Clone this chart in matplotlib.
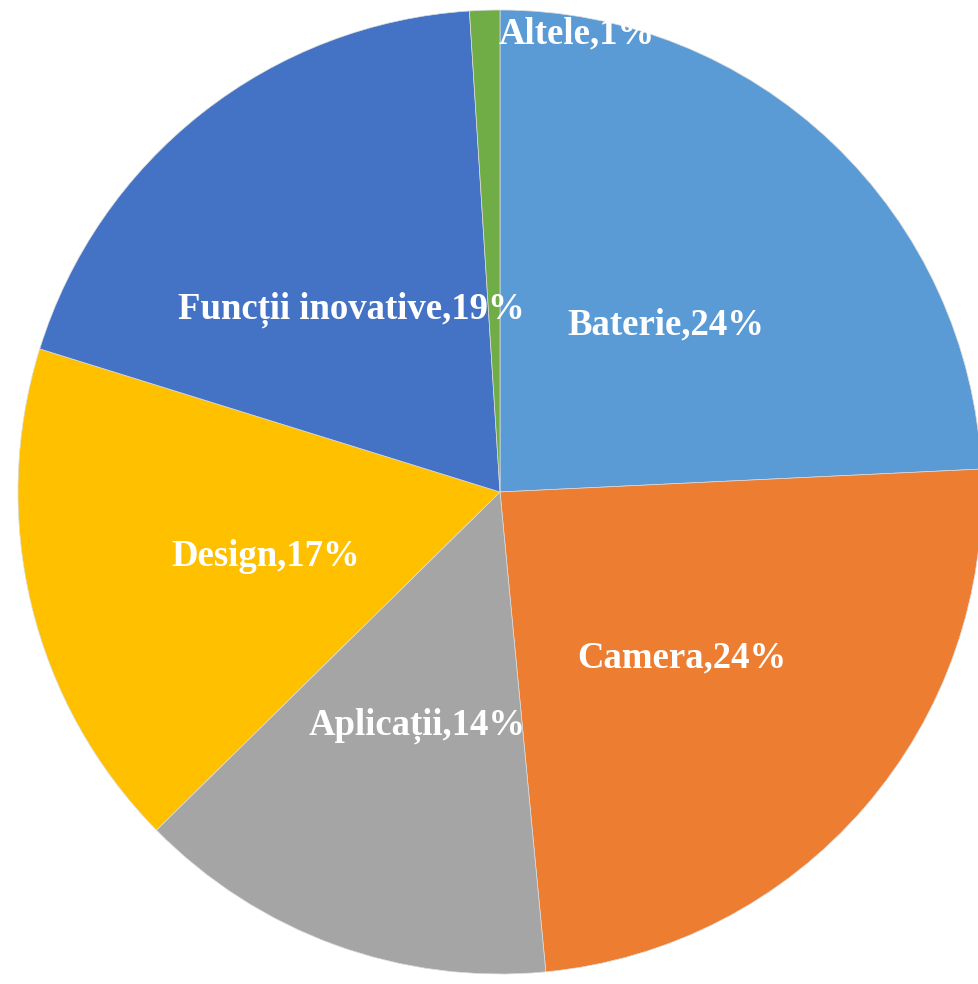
import matplotlib.pyplot as plt
import numpy as np

plt.rcParams.update({
    "font.family": ["Liberation Serif", "DejaVu Serif"],
    "font.weight": "bold",
})

labels = ['Baterie', 'Camera', 'Aplicații', 'Design', 'Funcții inovative', 'Altele']
values = [24, 24, 14, 17, 19, 1]
colors = ['#5B9BD5', '#ED7D31', '#A5A5A5', '#FFC000', '#4472C4', '#70AD47']

fig = plt.figure(figsize=(9.79, 9.84), dpi=100)
# pie centred at ~ (500, 492) px with radius ~482 px
ax = fig.add_axes([18 / 979, 10 / 984, 964 / 979, 964 / 984])

wedges, _ = ax.pie(values, colors=colors, startangle=90, counterclock=False,
                   radius=1, center=(0, 0), frame=False,
                   wedgeprops=dict(edgecolor='#dcdcdc', linewidth=0.5))
ax.set_xlim(-1, 1)
ax.set_ylim(-1, 1)
ax.set_aspect('auto')
ax.axis('off')

fs = 26.5
for w, lab, v in zip(wedges, labels, values):
    mid = np.deg2rad((w.theta1 + w.theta2) / 2)
    txt = f'{lab},{v}%'
    if lab == 'Altele':
        x, y = np.cos(mid) * 0.96 + 0.19, np.sin(mid) * 0.95
    else:
        x, y = np.cos(mid) * 0.5, np.sin(mid) * 0.5 - 0.016
    ax.text(x, y, txt, ha='center', va='center', color='white',
            fontsize=fs, fontweight='bold')

fig.savefig('out.png', dpi=100, facecolor='white')
